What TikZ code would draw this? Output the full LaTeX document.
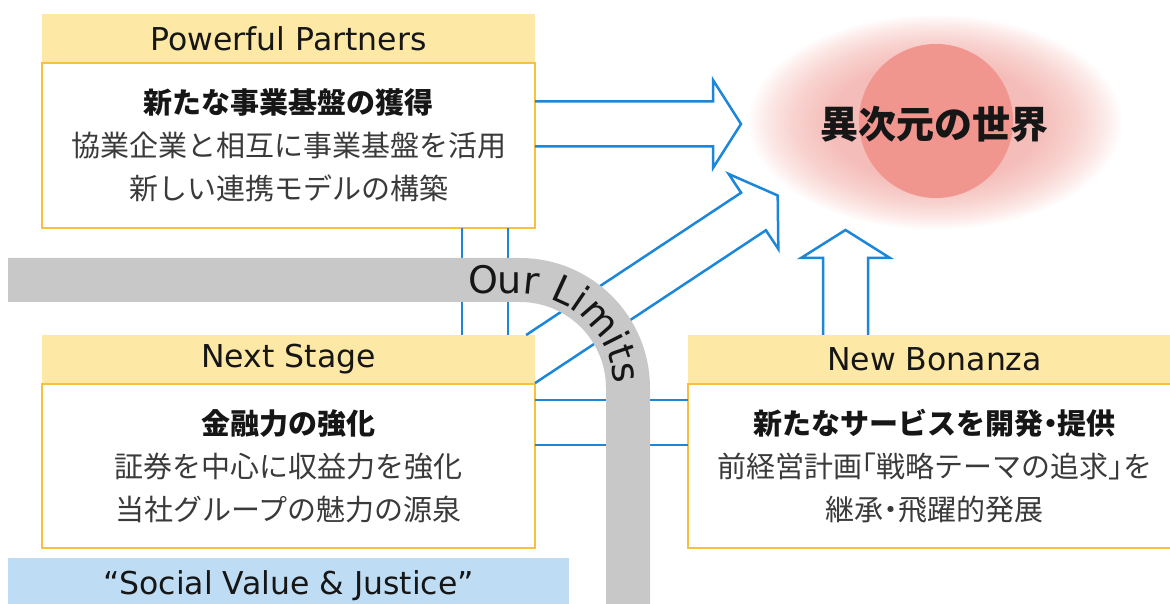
\documentclass[tikz,border=0pt]{standalone}
\usepackage{fontspec}
\setmainfont{DejaVu Sans}
\newfontfamily\jp{Noto Sans CJK JP}
\newcommand\hwp[1]{{\addfontfeature{RawFeature=+halt}#1}}
\usetikzlibrary{decorations.text}
\definecolor{orng}{HTML}{F8C13D}
\definecolor{hdr}{HTML}{FEE8A6}
\definecolor{blu}{HTML}{1C87D8}
\definecolor{bandgrey}{HTML}{C8C8C8}
\definecolor{sky}{HTML}{BEDDF5}
\definecolor{salmon}{HTML}{F1958F}
\definecolor{glowA}{HTML}{F5BDB9}
\definecolor{glowB}{HTML}{F8D3D0}
\definecolor{glowC}{HTML}{FCEAE8}
\definecolor{txtg}{HTML}{3A3A3A}
\definecolor{txtk}{HTML}{161616}
\pgfdeclareradialshading{glow}{\pgfpoint{0bp}{0bp}}{color(0bp)=(glowA); color(14bp)=(glowA); color(19bp)=(glowB); color(22.5bp)=(glowC); color(25bp)=(white); color(50bp)=(white)}
\begin{document}
\begin{tikzpicture}[x=1pt,y=1pt,
  hdrbox/.style={fill=hdr, minimum width=493, minimum height=49, inner sep=0, outer sep=0, font=\fontsize{31.5}{36}\selectfont, text=txtk},
  bodybox/.style={draw=orng, line width=2.5, fill=white, minimum width=493, minimum height=165, inner sep=0, outer sep=0, align=center, font={\jp\fontsize{29}{43}\selectfont}, text=txtg},
  bl/.style={draw=blu, line width=2.5, line join=miter},
]
\useasboundingbox (0,0) rectangle (1170,604);
\fill[white] (0,0) rectangle (1170,604);
\clip (0,0) rectangle (1170,604);

% goal
\shade[shading=glow] (935,482) ellipse [x radius=188, y radius=108];
\fill[salmon] (936,483) circle (77);
\node[font={\jp\bfseries\fontsize{38}{40}\selectfont}, text=txtk, inner sep=0] (world) at (934,480) {異次元の世界};

% boxes
\node[hdrbox] (pphead) at (288.5,565.5) {Powerful Partners};
\node[bodybox] (ppbody) at (288.5,458.5) {{\bfseries\color{txtk}新たな事業基盤の獲得}\\協業企業と相互に事業基盤を活用\\新しい連携モデルの構築};
\node[hdrbox] (nshead) at (288.5,244.5) {Next Stage};
\node[bodybox, minimum height=164] (nsbody) at (288.5,138) {{\bfseries\color{txtk}金融力の強化}\\証券を中心に収益力を強化\\当社グループの魅力の源泉};
\node[hdrbox] (nbhead) at (934.5,244.5) {New Bonanza};
\node[bodybox, minimum height=164] (nbbody) at (934.5,138) {{\bfseries\color{txtk}新たなサービスを開発\hwp{・}提供}\\前経営計画\hwp{「}戦略テーマの追求\hwp{」}を\\継承\hwp{・}飛躍的発展};
\node[fill=sky, minimum width=561, minimum height=56, inner sep=0, font=\fontsize{31.5}{36}\selectfont, text=txtk] (svj) at (288.5,18) {“Social Value \& Justice”};

% thin connectors
\coordinate (c1) at (462,0); \coordinate (c2) at (508,0);
\coordinate (c3) at (0,204); \coordinate (c4) at (0,159);
\draw[bl] (ppbody.south -| c1) -- (nshead.north -| c1);
\draw[bl] (ppbody.south -| c2) -- (nshead.north -| c2);
\draw[bl] (nsbody.east |- c3) -- (nbbody.west |- c3);
\draw[bl] (nsbody.east |- c4) -- (nbbody.west |- c4);

% horizontal hollow arrow
\coordinate (hu) at (713,502.5); \coordinate (hl) at (713,457.5);
\draw[bl] (ppbody.east |- hu) -- (hu) -- (713,524) -- (741,480) -- (713,436) -- (hl) -- (ppbody.east |- hl);

% diagonal hollow arrow
\begin{scope}[shift={(753.5,392.5)}, rotate=33.5]
\draw[bl] (-257.8,22.5) -- (0,22.5) -- (0,45) -- (29,0) -- (0,-45) -- (0,-22.5) -- (-276.9,-22.5);
\end{scope}

% vertical hollow arrow
\coordinate (vl) at (823,346); \coordinate (vr) at (868,346);
\draw[bl] (nbhead.north -| vl) -- (vl) -- (801,346) -- (845.5,374) -- (890,346) -- (vr) -- (nbhead.north -| vr);

% band
\draw[bandgrey, line width=44] (8,324) -- (520,324) arc[start angle=90, end angle=0, radius=108] -- (628,-10);
\path[decorate, decoration={text along path, text color=txtk, text={|\fontsize{38}{40}\selectfont|Our Limits}}]
  (468,310) -- (520,310) arc[start angle=90, end angle=0, radius=94] -- (614,100);
\end{tikzpicture}
\end{document}
